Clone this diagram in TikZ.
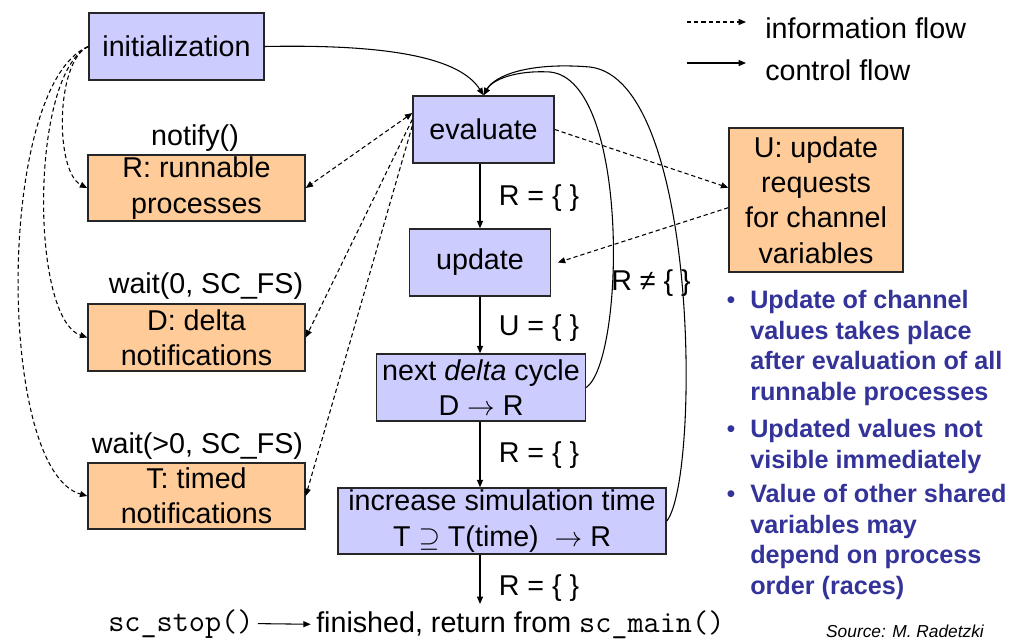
\documentclass[tikz,border=0pt]{standalone}
\usepackage{fontspec}
\setmainfont{Liberation Sans}
\usetikzlibrary{arrows.meta}
\definecolor{procblue}{HTML}{CCCCFF}
\definecolor{setorange}{HTML}{FFCC99}
\definecolor{notecol}{HTML}{333399}
\newcommand{\code}[1]{{\fontsize{23.5}{26.5}\ttfamily #1}}
\tikzset{
  txt/.style={font=\fontsize{21.5}{26.5}\selectfont},
  wh/.style 2 args={minimum width=#1*0.75pt, minimum height=#2*0.75pt},
  box/.style={draw=black!85, line width=1.1pt, align=center, inner sep=0pt, txt},
  proc/.style={box, fill=procblue},
  pset/.style={box, fill=setorange},
  lbl/.style={txt, inner sep=0pt, anchor=base},
  ctrl/.style={line width=0.8pt, -{Triangle[length=5.5pt,width=4.5pt]}},
  info/.style={ctrl, dash pattern=on 3.2pt off 2.2pt},
  infoboth/.style={info, {Triangle[length=5.5pt,width=4.5pt]}-{Triangle[length=5.5pt,width=4.5pt]}},
  note/.style={font=\fontsize{18.9}{22.9}\selectfont\bfseries, text=notecol,
    align=left, inner sep=0pt, anchor=north west},
  bul/.style={font=\fontsize{18.9}{22.9}\selectfont, text=notecol, inner sep=0pt, anchor=base}
}
\begin{document}
\begin{tikzpicture}[x=0.75pt,y=-0.75pt]
\useasboundingbox (0,0) rectangle (1012,640);

% simulation phases
\node[proc, wh={175}{67}] (init) at (176.5,46.5) {initialization};
\node[proc, wh={141}{67}] (eval) at (483.5,129.5) {evaluate};
\node[proc, wh={141}{67}] (upd) at (480,262.5) {update};
\node[proc, wh={209}{67}] (delta) at (481,387.5) {next \textit{delta} cycle\\D $\rightarrow$ R};
\node[proc, wh={328}{66}] (inc) at (502,521) {increase simulation time\\T $\supseteq$ T(time)\ \ $\rightarrow$ R};

% sets of processes / requests
\node[pset, wh={217}{66}] (R) at (196.5,188) {R: runnable\\processes};
\node[pset, wh={217}{67}] (D) at (196.5,337.5) {D: delta\\notifications};
\node[pset, wh={217}{66}] (T) at (196.5,496) {T: timed\\notifications};
\node[pset, wh={174}{144}] (U) at (816,200) {U: update\\requests\\for channel\\variables};

% labels
\node[lbl] (nfy) at (195,145) {notify()};
\node[lbl] (w0) at (206,293) {wait(0, SC\_FS)};
\node[lbl] (w1) at (197.5,453) {wait(>0, SC\_FS)};
\node[lbl] (c1) at (539,205) {R = \{ \}};
\node[lbl] (c2) at (539,335) {U = \{ \}};
\node[lbl] (c3) at (539,462) {R = \{ \}};
\node[lbl] (c4) at (539,595) {R = \{ \}};
\node[lbl] (c5) at (651,290) {R ≠ \{ \}};

\node[lbl, anchor=base west] (fin) at (316,632) {finished, return from \code{sc\_main()}};
\node[lbl, anchor=base west] (stop) at (108,631) {\code{sc\_stop()}};
\coordinate (finpt) at (480,604);

% control flow
\draw[ctrl] (upd.north |- eval.south) -- (upd.north);
\draw[ctrl] (upd.south) -- (upd.south |- delta.north);
\draw[ctrl] (upd.south |- delta.south) -- (upd.south |- inc.north);
\draw[ctrl] (upd.south |- inc.south) -- (finpt);
\draw[ctrl] ([xshift=3pt]stop.east) -- ([xshift=-4pt]fin.west);
\draw[ctrl] (init.east) .. controls (390,44) and (460,58) .. (eval.north);
\draw[ctrl] (delta.east) .. controls (625,360) and (630,80) .. (550,72)
            .. controls (515,70) and (492,80) .. (eval.north);
\draw[ctrl] (inc.east) .. controls (700,480) and (700,80) .. (590,67)
            .. controls (530,62) and (495,75) .. (eval.north);

% information flow
\draw[info] (init.west) .. controls (55,62) and (55,172) .. (R.west);
\draw[info] (init.west) .. controls (30,75) and (30,318) .. (D.west);
\draw[info] (init.west) .. controls (-4,85) and (-4,470) .. (T.west);
\draw[infoboth] (eval.167) -- (R.east);
\draw[info] (eval.172) -- (D.east);
\draw[info] (eval.177) -- (T.east);
\draw[info] (eval.east) -- (U.172);
\draw[info] (U.185) -- ([xshift=5pt]upd.east);

% legend
\coordinate (la) at (687,22);
\coordinate (lb) at (746,22);
\coordinate (lc) at (687,63);
\coordinate (ld) at (746,63);
\draw[info] (la) -- (lb);
\draw[ctrl] (lc) -- (ld);
\node[lbl, anchor=base west] (leg1) at (765,38) {information flow};
\node[lbl, anchor=base west] (leg2) at (765,80) {control flow};

% notes
\node[bul] (b1) at (731,308) {•};
\node[bul] (b2) at (731,437) {•};
\node[bul] (b3) at (731,502) {•};
\node[note] (n1) at (750,290) {Update of channel\\values takes place\\after evaluation of all\\runnable processes};
\node[note] (n2) at (750,419) {Updated values not\\visible immediately};
\node[note] (n3) at (750,484) {Value of other shared\\variables may\\depend on process\\order (races)};

\node[font=\fontsize{13}{15}\selectfont\itshape, inner sep=0pt, anchor=base] (src) at (905,637) {Source: M. Radetzki};
\end{tikzpicture}
\end{document}
